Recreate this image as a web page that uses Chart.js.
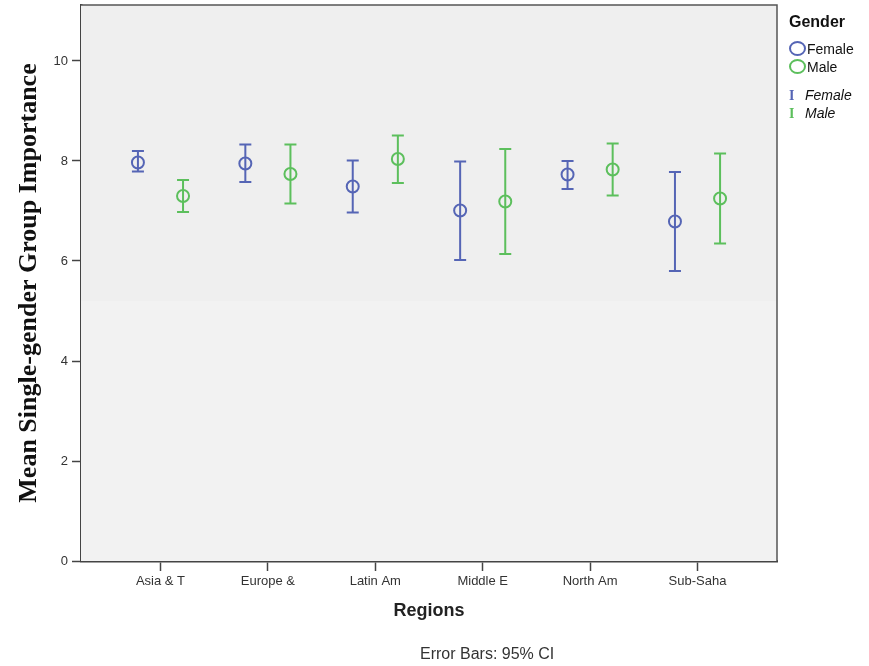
<!DOCTYPE html>
<html>
<head>
<meta charset="utf-8">
<script src="https://cdn.jsdelivr.net/npm/chart.js@4/dist/chart.umd.min.js"></script>
<style>
  body { margin: 0; background: #fff; }
  #wrap { position: relative; width: 869px; height: 666px; font-family: "Liberation Sans", Arial, sans-serif; }
  #legend { position: absolute; left: 789px; top: 13px; color: #111; }
  #legend .title { font-weight: bold; font-size: 16px; margin-bottom: 9px; }
  #legend .row { height: 18px; line-height: 18px; font-size: 14px; white-space: nowrap; }
  #legend .circ { display: inline-block; width: 13px; height: 11px; border: 2px solid; border-radius: 50%; vertical-align: -2px; margin-right: 1px; }
  #legend .ibar { display: inline-block; width: 16px; font-family: "Liberation Serif", serif; font-weight: bold; font-size: 14px; }
  #legend .it { font-style: italic; }
  #note { position: absolute; left: 420px; top: 645px; font-size: 16px; color: #333; }
</style>
</head>
<body>
<div id="wrap">
  <canvas id="chart" width="869" height="666"></canvas>
  <div id="legend">
    <div class="title">Gender</div>
    <div class="row"><span class="circ" style="border-color:#5565b5"></span>Female</div>
    <div class="row"><span class="circ" style="border-color:#5cbf5c"></span>Male</div>
    <div class="row" style="margin-top:10px"><span class="ibar" style="color:#5565b5">I</span><span class="it">Female</span></div>
    <div class="row"><span class="ibar" style="color:#5cbf5c">I</span><span class="it">Male</span></div>
  </div>
  <div id="note">Error Bars: 95% CI</div>
</div>
<script>
const regions = ['Asia & T', 'Europe &', 'Latin Am', 'Middle E', 'North Am', 'Sub-Saha'];

const femaleMean = [7.97, 7.95, 7.49, 7.01, 7.73, 6.79];
const femaleLow  = [7.79, 7.58, 6.97, 6.02, 7.44, 5.80];
const femaleHigh = [8.20, 8.33, 8.01, 7.99, 8.00, 7.78];

const maleMean = [7.30, 7.74, 8.04, 7.19, 7.83, 7.25];
const maleLow  = [6.98, 7.15, 7.56, 6.14, 7.31, 6.35];
const maleHigh = [7.62, 8.33, 8.51, 8.24, 8.35, 8.15];

const yTicks = [0, 2, 4, 6, 8, 10];

const blue = '#5565b5';
const green = '#5cbf5c';
const shift = 0.21;

function points(means, lows, highs, dx) {
    return means.map((m, i) => ({ x: i + dx, y: m, lo: lows[i], hi: highs[i] }));
}

// plot background + frame
const frame = {
    id: 'frame',
    beforeDatasetsDraw(chart) {
        let { ctx, chartArea: a, scales: { y } } = chart;
        ctx.save();
        ctx.fillStyle = '#f2f2f2';
        ctx.fillRect(a.left, a.top, a.right - a.left, a.bottom - a.top);
        let mid = y.getPixelForValue(5.2);
        ctx.fillStyle = '#efefef';
        ctx.fillRect(a.left, a.top, a.right - a.left, mid - a.top);
        ctx.restore();
    },
    afterDraw(chart) {
        let { ctx, chartArea: a } = chart;
        ctx.save();
        ctx.strokeStyle = '#555';
        ctx.lineWidth = 1.5;
        ctx.beginPath();
        ctx.moveTo(a.left, a.top);
        ctx.lineTo(a.right, a.top);
        ctx.lineTo(a.right, a.bottom);
        ctx.stroke();
        ctx.restore();
    }
};

// 95% CI whiskers
const errorBars = {
    id: 'errorBars',
    afterDatasetsDraw(chart) {
        let { ctx, scales: { x, y } } = chart;
        ctx.save();
        chart.data.datasets.forEach(ds => {
            ctx.strokeStyle = ds.borderColor;
            ctx.lineWidth = 2;
            ds.data.forEach(p => {
                let px = x.getPixelForValue(p.x);
                let top = y.getPixelForValue(p.hi);
                let bot = y.getPixelForValue(p.lo);
                ctx.beginPath();
                ctx.moveTo(px, top);
                ctx.lineTo(px, bot);
                ctx.moveTo(px - 6, top);
                ctx.lineTo(px + 6, top);
                ctx.moveTo(px - 6, bot);
                ctx.lineTo(px + 6, bot);
                ctx.stroke();
            });
        });
        ctx.restore();
    }
};

new Chart(document.getElementById('chart').getContext('2d'), {
    type: 'scatter',
    data: {
        datasets: [{
            label: 'Female',
            data: points(femaleMean, femaleLow, femaleHigh, -shift),
            borderColor: blue,
            backgroundColor: 'rgba(0,0,0,0)',
            pointRadius: 6,
            pointBorderWidth: 2,
        }, {
            label: 'Male',
            data: points(maleMean, maleLow, maleHigh, shift),
            borderColor: green,
            backgroundColor: 'rgba(0,0,0,0)',
            pointRadius: 6,
            pointBorderWidth: 2,
        }]
    },
    options: {
        responsive: false,
        animation: false,
        layout: { autoPadding: false, padding: { top: 5, right: 92, left: 0, bottom: 0 } },
        plugins: {
            legend: { display: false },
            tooltip: { enabled: false }
        },
        scales: {
            x: {
                type: 'linear',
                min: -0.74,
                max: 5.74,
                afterFit: s => { s.height = 105; s.paddingLeft = 0; s.paddingRight = 0; },
                afterBuildTicks: s => { s.ticks = regions.map((r, i) => ({ value: i })); },
                border: { display: true, color: '#444', width: 2.5 },
                grid: { drawOnChartArea: false, tickLength: 10, tickColor: '#444', tickWidth: 1.5 },
                ticks: {
                    color: '#333',
                    padding: 3,
                    maxRotation: 0,
                    autoSkip: false,
                    font: { family: 'Liberation Sans', size: 13 },
                    callback: v => regions[v]
                },
                title: {
                    display: true,
                    text: 'Regions',
                    color: '#222',
                    padding: { top: 0, bottom: 44 },
                    font: { family: 'Liberation Sans', size: 18, weight: 'bold' }
                }
            },
            y: {
                min: 0,
                max: 11.12,
                afterFit: s => { s.width = 81; s.paddingTop = 0; s.paddingBottom = 0; },
                afterBuildTicks: s => { s.ticks = yTicks.map(v => ({ value: v })); },
                border: { display: true, color: '#444', width: 2.5 },
                grid: { drawOnChartArea: false, tickLength: 9, tickColor: '#444', tickWidth: 1.5 },
                ticks: {
                    color: '#333',
                    padding: 4,
                    font: { family: 'Liberation Sans', size: 13 }
                },
                title: {
                    display: true,
                    text: 'Mean Single-gender Group Importance',
                    color: '#111',
                    padding: { top: 14, bottom: 0 },
                    font: { family: 'Liberation Serif', size: 26, weight: 'bold', lineHeight: 1.2 }
                }
            }
        }
    },
    plugins: [frame, errorBars]
});
</script>
</body>
</html>
